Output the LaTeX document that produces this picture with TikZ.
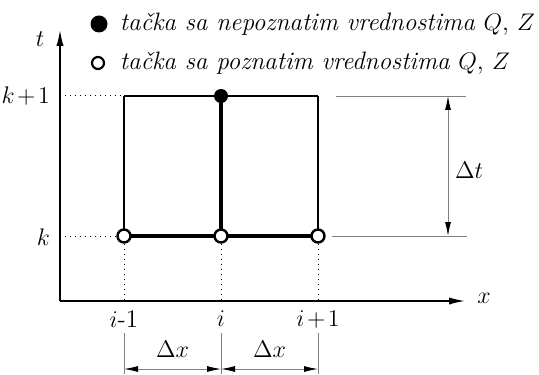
\documentclass[tikz,border=0pt]{standalone}
\usetikzlibrary{arrows.meta,positioning}

\tikzset{
	known/.style={circle, draw, fill=white, line width=1.2pt, inner sep=0pt, minimum size=6.5pt},
	unknown/.style={circle, fill=black, inner sep=0pt, minimum size=7pt},
	dimline/.style={gray, line width=0.45pt},
	dimarrow/.style={dimline, {Latex[length=7pt,width=3pt,black]}-{Latex[length=7pt,width=3pt,black]}},
}

\begin{document}
\begin{tikzpicture}[x=0.5pt, y=0.5pt, font=\fontsize{12.6}{15}\selectfont]
		\useasboundingbox (-60,-73) rectangle (479,301);

		% axes
		\coordinate (O) at (0,0);
		\coordinate (tend) at (0,271);
		\coordinate (xend) at (405,0);
		\draw[line width=0.75pt, -{Latex[length=8pt,width=3.6pt]}] (O) -- (tend);
		\draw[line width=0.75pt, -{Latex[length=8pt,width=3.6pt]}] (O) -- (xend);
		\node (tlab) at (-20,262) {$t$};
		\node (xlab) at (424,3) {$x$};

		% grid points
		\foreach \x/\l/\n in {64/{$i$-1}/a, 161/{$i$}/b, 258/{$i\mkern2mu{+}\mkern2mu1$}/c} {
				\coordinate (t\n) at (\x,205);
				\node[below] (col\n) at (\x,-3) {\l};
			}
		\draw[line width=0.7pt] (ta) -- (tc);
		\draw[line width=0.7pt] (ta) -- (ta |- 0,65);
		\draw[line width=0.7pt] (tc) -- (tc |- 0,65);
		\draw[line width=2.2pt] (161,65) -- (tb);
		\draw[line width=2.2pt] (64,65) -- (258,65);
		\foreach \x/\n in {64/a, 161/b, 258/c} {
				\node[known] (k\n) at (\x,65) {};
				\draw[dotted, line width=0.5pt] (k\n) -- (k\n |- O);
			}
		\node[unknown] (kb1) at (tb) {};

		% time levels
		\node[left] (klab) at (-3,64) {$k$};
		\node[left] (k1lab) at (-3,205) {$k\mkern2mu{+}\mkern2mu1$};
		\draw[dotted, line width=0.5pt] (O |- ka) -- (ka);
		\draw[dotted, line width=0.5pt] (O |- ta) -- (ta);

		% dimension dt
		\coordinate (dt1) at (276,205);
		\coordinate (dt2) at (406,205);
		\coordinate (db1) at (272,65);
		\coordinate (db2) at (407,65);
		\draw[dimline] (dt1) -- (dt2);
		\draw[dimline] (db1) -- (db2);
		\coordinate (dtop) at (388,205);
		\coordinate (dbot) at (388,65);
		\draw[dimarrow] (dtop) -- (dbot);
		\node[right] (dtlab) at (388,131) {$\Delta t$};

		% dimension dx
		\foreach \x/\n in {64/a, 161/b, 258/c} {
				\coordinate (up\n) at (\x,-32);
				\coordinate (lo\n) at (\x,-73);
				\draw[dimline] (up\n) -- (lo\n);
			}
		\draw[dimarrow] (64,-68) coordinate (dxa) -- (161,-68) coordinate (dxb);
		\draw[dimarrow] (dxb) -- (258,-68) coordinate (dxc);
		\node (dxlab1) at (112.5,-48) {$\Delta x$};
		\node (dxlab2) at (209.5,-48) {$\Delta x$};

		% legend
		\node[unknown, minimum size=8.5pt] (leg1) at (39,277) {};
		\node[known, minimum size=6pt, line width=1.1pt] (leg2) at (38,238) {};
		\node[right=2.5pt of leg1] (legtxt1) {\textit{tačka sa nepoznatim vrednostima} $Q$, $Z$};
		\node[anchor=west] (legtxt2) at (legtxt1.west |- leg2) {\textit{tačka sa poznatim vrednostima} $Q$, $Z$};
	\end{tikzpicture}
\end{document}
